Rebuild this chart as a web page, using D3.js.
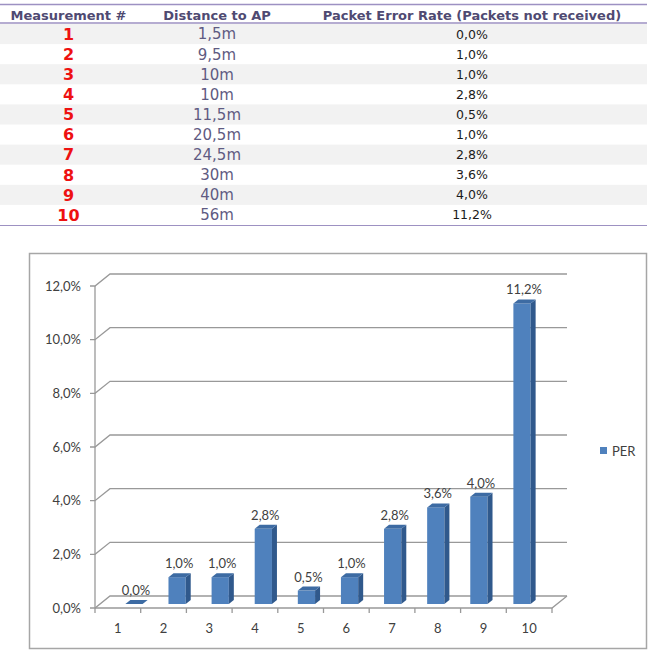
<!DOCTYPE html>
<html>
<head>
<meta charset="utf-8">
<script src="https://cdn.jsdelivr.net/npm/d3@7"></script>
<style>
  body { margin: 0; background: #fff; }
</style>
</head>
<body>
<div id="chart"></div>
<script>
// table + chart data
const headers = ["Measurement #", "Distance to AP", "Packet Error Rate (Packets not received)"];
const measurements = ["1", "2", "3", "4", "5", "6", "7", "8", "9", "10"];
const distances = ["1,5m", "9,5m", "10m", "10m", "11,5m", "20,5m", "24,5m", "30m", "40m", "56m"];
const perValues = [0.0, 1.0, 1.0, 2.8, 0.5, 1.0, 2.8, 3.6, 4.0, 11.2];
const yTicks = [0, 2, 4, 6, 8, 10, 12];
const seriesName = "PER";

const width = 655, height = 653;
const chartFont = "13px Lato, 'Open Sans', sans-serif";

// comma as decimal mark
const locale = d3.formatLocale({ decimal: ",", thousands: ".", grouping: [3], currency: ["", ""] });
const fmt = v => locale.format(".1f")(v) + "%";

const svg = d3.select("#chart")
  .append("svg")
  .attr("width", width)
  .attr("height", height)
  .attr("viewBox", [0, 0, width, height]);

// ---------- table ----------
const colEdges = [0, 137, 297, 647];
const colCenter = i => (colEdges[i] + colEdges[i + 1]) / 2;
const rowY = d3.scaleBand().domain(d3.range(measurements.length)).range([24, 225]);
const lineColor = "#9d91c2";

const table = svg.append("g");

table.selectAll("rect.row")
  .data(d3.range(measurements.length).filter(i => i % 2 === 0))
  .join("rect")
  .attr("class", "row")
  .attr("x", 0)
  .attr("y", i => rowY(i))
  .attr("width", colEdges[3])
  .attr("height", rowY.bandwidth())
  .attr("fill", "#f2f2f2");

table.append("line")
  .attr("x1", 0).attr("x2", colEdges[3])
  .attr("y1", 4.5).attr("y2", 4.5)
  .attr("stroke", lineColor).attr("stroke-width", 1.5);
table.append("line")
  .attr("x1", 0).attr("x2", colEdges[3])
  .attr("y1", 23).attr("y2", 23)
  .attr("stroke", lineColor).attr("stroke-width", 1.5);
table.append("line")
  .attr("x1", 0).attr("x2", colEdges[3])
  .attr("y1", 225.5).attr("y2", 225.5)
  .attr("stroke", lineColor).attr("stroke-width", 1.2);

table.selectAll("text.head")
  .data(headers)
  .join("text")
  .attr("class", "head")
  .attr("x", (d, i) => colCenter(i))
  .attr("y", 19.5)
  .attr("text-anchor", "middle")
  .style("font", "bold 13px 'DejaVu Sans', Verdana, sans-serif")
  .attr("fill", "#4f4a72")
  .text(d => d);

table.selectAll("text.num")
  .data(measurements)
  .join("text")
  .attr("class", "num")
  .attr("x", colCenter(0))
  .attr("y", (d, i) => rowY(i) + rowY.bandwidth() / 2)
  .attr("dy", "0.36em")
  .attr("text-anchor", "middle")
  .style("font", "bold 16px 'DejaVu Sans', Verdana, sans-serif")
  .attr("fill", "#ee1111")
  .text(d => d);

table.selectAll("text.dist")
  .data(distances)
  .join("text")
  .attr("class", "dist")
  .attr("x", colCenter(1))
  .attr("y", (d, i) => rowY(i) + rowY.bandwidth() / 2)
  .attr("dy", "0.36em")
  .attr("text-anchor", "middle")
  .style("font", "15px 'DejaVu Sans', Verdana, sans-serif")
  .attr("fill", "#5f5b82")
  .text(d => d);

table.selectAll("text.per")
  .data(perValues)
  .join("text")
  .attr("class", "per")
  .attr("x", colCenter(2))
  .attr("y", (d, i) => rowY(i) + rowY.bandwidth() / 2)
  .attr("dy", "0.36em")
  .attr("text-anchor", "middle")
  .style("font", "12.5px 'DejaVu Sans', Verdana, sans-serif")
  .attr("fill", "#1a1a1a")
  .text(d => fmt(d));

// ---------- chart ----------
svg.append("rect")
  .attr("x", 29.5).attr("y", 253.5)
  .attr("width", 617).attr("height", 395)
  .attr("fill", "#fff")
  .attr("stroke", "#a6a6a6")
  .attr("stroke-width", 1.5);

const depth = { dx: 15, dy: -12 };      // back wall offset
const barShift = { dx: 4.5, dy: -4 };   // bar front face offset
const barDepth = { dx: 5, dy: -4 };     // bar thickness

const x = d3.scaleBand().domain(measurements).range([95, 552]).padding(0.6);
const xEdge = d3.scaleBand().domain(measurements).range([95, 552]);
const y = d3.scaleLinear().domain([0, 12]).range([608, 286]);

const grid = svg.append("g")
  .attr("fill", "none")
  .attr("stroke", "#999")
  .attr("stroke-width", 1.3);

grid.selectAll("path.grid")
  .data(yTicks)
  .join("path")
  .attr("d", t => {
    const yy = y(t);
    return `M90,${yy}H95L${95 + depth.dx},${yy + depth.dy}H${552 + depth.dx}`;
  });

// y axis
grid.append("line")
  .attr("x1", 95).attr("x2", 95)
  .attr("y1", y(0)).attr("y2", y(12));

// x axis + floor edge
grid.append("path")
  .attr("d", `M95,${y(0)}H552L${552 + depth.dx},${y(0) + depth.dy}`);

grid.selectAll("line.xt")
  .data(measurements.concat(["end"]))
  .join("line")
  .attr("class", "xt")
  .attr("x1", d => d === "end" ? 552 : xEdge(d))
  .attr("x2", d => d === "end" ? 552 : xEdge(d))
  .attr("y1", y(0))
  .attr("y2", y(0) + 5);

svg.append("g")
  .selectAll("text")
  .data(yTicks)
  .join("text")
  .attr("x", 81)
  .attr("y", t => y(t))
  .attr("dy", "0.35em")
  .attr("text-anchor", "end")
  .style("font", chartFont)
  .attr("fill", "#404040")
  .text(t => fmt(t));

svg.append("g")
  .selectAll("text")
  .data(measurements)
  .join("text")
  .attr("x", d => xEdge(d) + xEdge.bandwidth() / 2)
  .attr("y", 628)
  .attr("dy", "0.35em")
  .attr("text-anchor", "middle")
  .style("font", chartFont)
  .attr("fill", "#404040")
  .text(d => d);

// bars
const bars = svg.append("g")
  .selectAll("g")
  .data(perValues.map((v, i) => ({ key: measurements[i], value: v })))
  .join("g");

const geom = d => {
  const x0 = x(d.key) + barShift.dx;
  const x1 = x0 + x.bandwidth();
  const yb = y(0) + barShift.dy;
  const yt = y(d.value) + barShift.dy;
  return { x0, x1, yb, yt };
};

bars.append("rect")
  .attr("x", d => geom(d).x0)
  .attr("y", d => geom(d).yt)
  .attr("width", x.bandwidth())
  .attr("height", d => geom(d).yb - geom(d).yt)
  .attr("fill", "#4f81bd");

bars.append("path")
  .attr("d", d => {
    const g = geom(d);
    return `M${g.x1},${g.yt}l${barDepth.dx},${barDepth.dy}V${g.yb + barDepth.dy}L${g.x1},${g.yb}Z`;
  })
  .attr("fill", "#30598c");

bars.append("path")
  .attr("d", d => {
    const g = geom(d);
    return `M${g.x0},${g.yt}l${barDepth.dx},${barDepth.dy}H${g.x1 + barDepth.dx}L${g.x1},${g.yt}Z`;
  })
  .attr("fill", "#3d6ba3");

bars.append("text")
  .attr("x", d => geom(d).x0 + x.bandwidth() / 2 + 2)
  .attr("y", d => geom(d).yt - 9)
  .attr("text-anchor", "middle")
  .style("font", chartFont)
  .attr("fill", "#404040")
  .text(d => fmt(d.value));

// legend
const legend = svg.append("g").attr("transform", "translate(600,447)");
legend.append("rect")
  .attr("width", 7).attr("height", 7)
  .attr("fill", "#4f81bd");
legend.append("text")
  .attr("x", 12)
  .attr("y", 4)
  .attr("dy", "0.35em")
  .style("font", chartFont)
  .attr("fill", "#404040")
  .text(seriesName);
</script>
</body>
</html>
